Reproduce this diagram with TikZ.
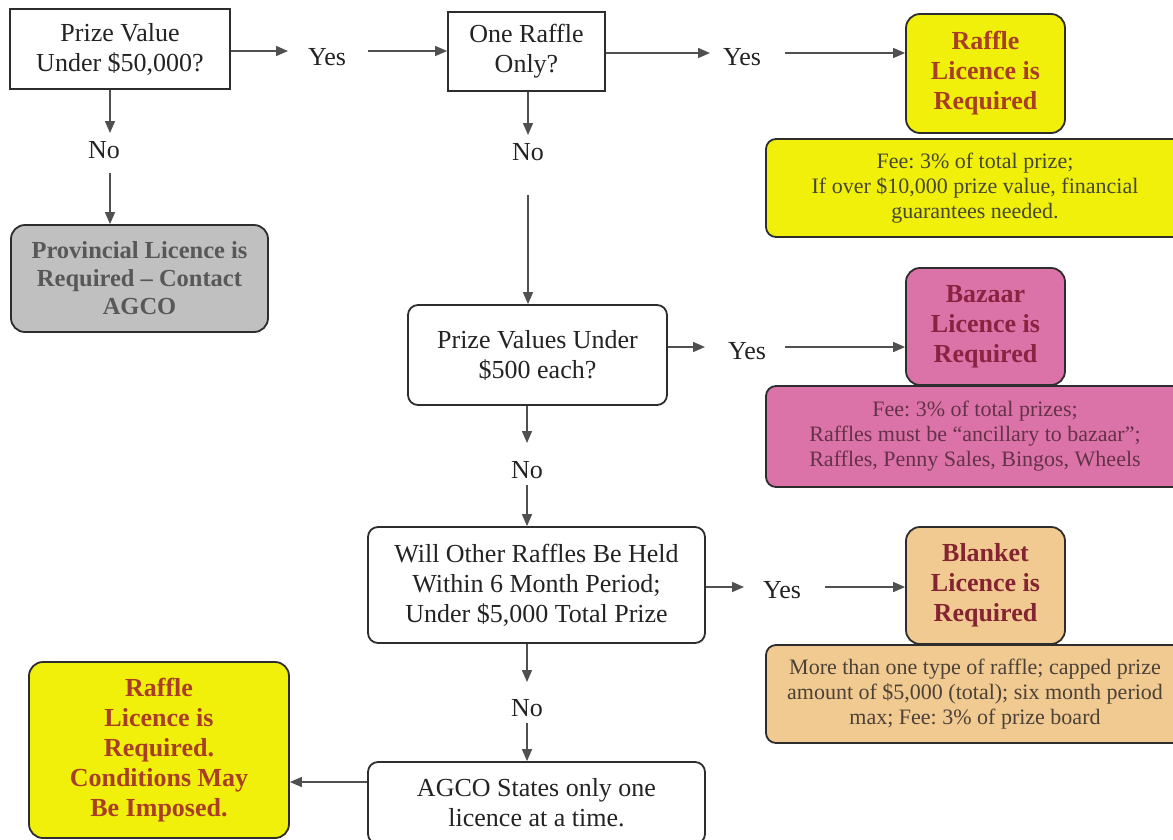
\documentclass[tikz,border=0pt]{standalone}
\usepackage{fontspec}
\setmainfont{Liberation Serif}
\frenchspacing
\usetikzlibrary{arrows.meta}
\definecolor{bordercol}{RGB}{45,45,45}
\definecolor{arrowcol}{RGB}{80,80,80}
\definecolor{maintext}{RGB}{35,35,35}
\definecolor{yelfill}{RGB}{240,240,10}
\definecolor{pinkfill}{RGB}{220,115,168}
\definecolor{tanfill}{RGB}{240,202,145}
\definecolor{grayfill}{RGB}{192,192,192}
\definecolor{raffletext}{RGB}{168,62,38}
\definecolor{bazaartext}{RGB}{138,35,65}
\definecolor{blankettext}{RGB}{132,35,50}
\definecolor{provtext}{RGB}{88,88,88}
\definecolor{yelfeetext}{RGB}{70,70,55}
\definecolor{pinkfeetext}{RGB}{100,50,72}
\definecolor{tanfeetext}{RGB}{75,65,55}
\begin{document}
\begin{tikzpicture}[x=1pt,y=-1pt,
  base/.style={inner sep=0pt, align=center, line width=1.8pt, draw=bordercol},
  qbox/.style={base, text=maintext, font=\fontsize{26}{30}\selectfont},
  qround/.style={qbox, rounded corners=10pt},
  lic/.style={base, rounded corners=14pt, font=\bfseries\fontsize{26}{30}\selectfont},
  fee/.style={base, rounded corners=10pt, font=\fontsize{22}{25}\selectfont},
  lbl/.style={inner sep=0pt, text=maintext, font=\fontsize{26}{30}\selectfont},
  arr/.style={draw=arrowcol, line width=1.5pt, -{Triangle[length=12pt,width=10pt]}}]
\useasboundingbox (0,0) rectangle (1173,839);
\fill[white] (0,0) rectangle (1173,839);
\clip (0,0) rectangle (1173,839);

% question boxes
\node[qbox, minimum width=220pt, minimum height=80pt] (b1) at (120,49) {Prize Value\\Under \$50,000?};
\node[qbox, minimum width=157pt, minimum height=79pt] (b2) at (526.5,51.5) {One Raffle\\Only?};
\node[qround, minimum width=259pt, minimum height=100pt] (b3) at (537.5,355) {Prize Values Under\\\$500 each?};
\node[qround, minimum width=337pt, minimum height=116pt] (b4) at (536.5,585) {Will Other Raffles Be Held\\Within 6 Month Period;\\Under \$5,000 Total Prize};
\node[qround, minimum width=337pt, minimum height=82pt] (b5) at (536.5,803) {AGCO States only one\\licence at a time.};

% fee boxes
\node[fee, fill=yelfill, text=yelfeetext, minimum width=418pt, minimum height=98pt] (f1) at (975,188) {Fee: 3\% of total prize;\\If over \$10,000 prize value, financial\\guarantees needed.};
\node[fee, fill=pinkfill, text=pinkfeetext, minimum width=418pt, minimum height=101pt] (f2) at (975,436.5) {Fee: 3\% of total prizes;\\Raffles must be “ancillary to bazaar”;\\Raffles, Penny Sales, Bingos, Wheels};
\node[fee, fill=tanfill, text=tanfeetext, minimum width=418pt, minimum height=98pt] (f3) at (975,694) {More than one type of raffle; capped prize\\amount of \$5,000 (total); six month period\\max; Fee: 3\% of prize board};

% licence boxes
\node[lic, fill=yelfill, text=raffletext, minimum width=159pt, minimum height=119pt] (r1) at (985.5,73.5) {Raffle\\Licence is\\Required};
\node[lic, fill=pinkfill, text=bazaartext, minimum width=159pt, minimum height=117pt] (bz) at (985.5,326.5) {Bazaar\\Licence is\\Required};
\node[lic, fill=tanfill, text=blankettext, minimum width=159pt, minimum height=117pt] (bl) at (985.5,585.5) {Blanket\\Licence is\\Required};
\node[base, rounded corners=14pt, fill=grayfill, text=provtext, font=\bfseries\fontsize{24.5}{28}\selectfont, minimum width=257pt, minimum height=107pt] (pv) at (139.5,278.5) {Provincial Licence is\\Required – Contact\\AGCO};
\node[lic, fill=yelfill, text=raffletext, minimum width=260pt, minimum height=176pt] (fin) at (159,750) {Raffle\\Licence is\\Required.\\Conditions May\\Be Imposed.};

% yes / no labels
\node[lbl] (y1) at (327,57) {Yes};
\node[lbl] (y2) at (742,57) {Yes};
\node[lbl] (y3) at (747,351) {Yes};
\node[lbl] (y4) at (782,590) {Yes};
\node[lbl] (n1) at (104,150) {No};
\node[lbl] (n2) at (528,152) {No};
\node[lbl] (n3) at (527,470) {No};
\node[lbl] (n4) at (527,708) {No};

% arrow end coordinates
\coordinate (t1) at (288,51);
\coordinate (s1) at (368,51);
\coordinate (t2) at (710,53);
\coordinate (s2) at (785,53);
\coordinate (t3) at (705,347);
\coordinate (s3) at (785,347);
\coordinate (t4) at (744,587);
\coordinate (s4) at (825,587);
\coordinate (t5) at (110,133);
\coordinate (s5) at (110,173);
\coordinate (t6) at (528,135);
\coordinate (s6) at (528,195);
\coordinate (t7) at (527,443);
\coordinate (s7) at (527,485);
\coordinate (t8) at (527,682);
\coordinate (s8) at (527,723);
\coordinate (lft) at (368,782);

% connectors
\draw[arr] (b1.east |- t1) -- (t1);
\draw[arr] (s1) -- (s1 -| b2.west);
\draw[arr] (b2.east |- t2) -- (t2);
\draw[arr] (s2) -- (s2 -| r1.west);
\draw[arr] (b3.east |- t3) -- (t3);
\draw[arr] (s3) -- (s3 -| bz.west);
\draw[arr] (b4.east |- t4) -- (t4);
\draw[arr] (s4) -- (s4 -| bl.west);
\draw[arr] (t5 |- b1.south) -- (t5);
\draw[arr] (s5) -- (s5 |- pv.north);
\draw[arr] (t6 |- b2.south) -- (t6);
\draw[arr] (s6) -- (s6 |- b3.north);
\draw[arr] (t7 |- b3.south) -- (t7);
\draw[arr] (s7) -- (s7 |- b4.north);
\draw[arr] (t8 |- b4.south) -- (t8);
\draw[arr] (s8) -- (s8 |- b5.north);
\draw[arr] (lft -| b5.west) -- (lft -| fin.east);
\end{tikzpicture}
\end{document}
